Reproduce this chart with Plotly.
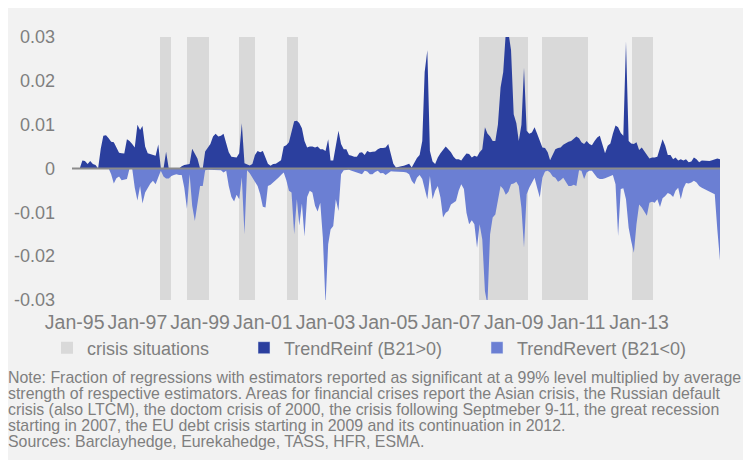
import pandas as pd
import plotly.graph_objects as go

# ---------------- data (monthly, Dec-1994 .. Aug-2015) ----------------
start_month = "1994-12-01"
n_months = 249
dates = pd.date_range(start_month, periods=n_months, freq="MS")

trend_reinf = [
    0, 0, 0, 0, 0.0018, 0.0017, 0.0010, 0.0017, 0.0010, 0.0008, 0, 0.0045,
    0.0075, 0.0076, 0.0069, 0.0061, 0.0060, 0.0048, 0.0036, 0.0035, 0.0034, 0.0067, 0.0063, 0.0056,
    0.0048, 0.0100, 0.0088, 0.0097, 0.0050, 0.0035, 0.0033, 0.0031, 0.0029, 0.0055, 0, 0,
    0.0038, 0, 0, 0, 0, 0, 0.0005, 0.0008, 0.0009, 0.0010, 0.0045, 0.0032,
    0.0023, 0, 0, 0.0039, 0.0047, 0.0056, 0.0073, 0.0079, 0.0073, 0.0075, 0.0079, 0.0060,
    0.0037, 0.0027, 0.0026, 0.0025, 0.0035, 0.0103, 0.0012, 0.0010, 0.0007, 0.0010, 0.0031, 0.0040,
    0.0037, 0.0040, 0.0025, 0.0011, 0.0006, 0.0010, 0.0011, 0.0014, 0.0019, 0.0050, 0.0053, 0.0060,
    0.0086, 0.0108, 0.0109, 0.0104, 0.0092, 0.0063, 0.0048, 0.0050, 0.0050, 0.0048, 0.0050, 0.0044,
    0.0044, 0.0040, 0.0067, 0.0018, 0.0018, 0.0056, 0.0086, 0.0056, 0.0044, 0.0044, 0.0031, 0.0029,
    0.0027, 0.0027, 0.0036, 0.0037, 0.0031, 0.0040, 0.0037, 0.0038, 0.0039, 0.0044, 0.0047, 0.0047,
    0.0048, 0.0056, 0.0030, 0.0011, 0.0002, 0.0004, 0.0005, 0.0006, 0.0008, 0.0011, 0.0002, 0.0014,
    0.0024, 0.0031, 0.0063, 0.0220, 0.0270, 0.0040, 0.0016, 0.0010, 0.0025, 0.0035, 0.0042, 0.0050,
    0.0044, 0.0037, 0.0027, 0.0021, 0.0021, 0.0018, 0.0027, 0.0034, 0.0033, 0.0025, 0.0029, 0.0027,
    0.0037, 0.0044, 0.0094, 0.0080, 0.0073, 0.0063, 0.0063, 0.0100, 0.0185, 0.0220, 0.0310, 0.0310,
    0.0270, 0.0124, 0.0103, 0.0063, 0.0100, 0.0230, 0.0086, 0.0079, 0.0082, 0.0094, 0.0079, 0.0063,
    0.0048, 0.0047, 0.0037, 0.0019, 0.0033, 0.0044, 0.0047, 0.0048, 0.0054, 0.0058, 0.0061, 0.0063,
    0.0067, 0.0073, 0.0069, 0.0060, 0.0056, 0.0063, 0.0056, 0.0053, 0.0063, 0.0071, 0.0075, 0.0056,
    0.0035, 0.0052, 0.0057, 0.0079, 0.0098, 0.0094, 0.0081, 0.0075, 0.0290, 0.0063, 0.0057, 0.0056,
    0.0060, 0.0042, 0.0048, 0.0040, 0.0031, 0.0023, 0.0025, 0.0025, 0.0027, 0.0050, 0.0067, 0.0052,
    0.0031, 0.0031, 0.0021, 0.0025, 0.0018, 0.0021, 0.0018, 0.0021, 0.0014, 0.0016, 0.0025, 0.0021,
    0.0014, 0.0018, 0.0018, 0.0018, 0.0017, 0.0019, 0.0021, 0.0023, 0.0021,
]

trend_revert = [
    0, 0, 0, 0, 0, 0, 0, 0, 0, 0, 0, 0,
    0, 0, 0, -0.0013, -0.0034, -0.0022, -0.0018, -0.0027, -0.0025, -0.0024, 0, 0,
    -0.0044, -0.0073, -0.0040, -0.0080, -0.0055, -0.0044, -0.0034, -0.0028, -0.0036, -0.0020, -0.0005, -0.0018,
    -0.0023, -0.0023, -0.0017, -0.0015, -0.0013, -0.0015, -0.0015, -0.0044, -0.0092, -0.0013, -0.0085, -0.0120,
    -0.0082, -0.0040, -0.0040, -0.0004, -0.0003, -0.0003, -0.0004, -0.0004, -0.0003, -0.0004, -0.0009, -0.0005,
    -0.0040, -0.0065, -0.0075, -0.0060, -0.0070, -0.0020, -0.0150, -0.0004, -0.0011, -0.0021, -0.0028, -0.0040,
    -0.0059, -0.0087, -0.0089, -0.0040, -0.0037, -0.0032, -0.0028, -0.0021, -0.0015, -0.0009, -0.0026, -0.0051,
    -0.0055, -0.0150, -0.0070, -0.0130, -0.0080, -0.0155, -0.0065, -0.0051, -0.0055, -0.0085, -0.0098, -0.0078,
    -0.0158, -0.0310, -0.0173, -0.0139, -0.0131, -0.0070, -0.0097, -0.0013, -0.0004, -0.0003, -0.0003, -0.0005,
    -0.0007, -0.0008, -0.0011, -0.0013, -0.0005, -0.0007, -0.0013, -0.0013, -0.0008, -0.0005, -0.0011, -0.0010,
    -0.0015, -0.0011, -0.0006, -0.0007, -0.0007, -0.0007, -0.0007, -0.0008, -0.0009, -0.0013, -0.0028, -0.0036,
    -0.0021, -0.0015, -0.0024, -0.0047, -0.0070, -0.0017, -0.0070, -0.0051, -0.0040, -0.0066, -0.0112, -0.0101,
    -0.0097, -0.0082, -0.0078, -0.0074, -0.0051, -0.0036, -0.0047, -0.0101, -0.0127, -0.0118, -0.0127, -0.0181,
    -0.0127, -0.0162, -0.0280, -0.0310, -0.0150, -0.0112, -0.0105, -0.0070, -0.0040, -0.0047, -0.0060, -0.0053,
    -0.0036, -0.0034, -0.0030, -0.0040, -0.0090, -0.0180, -0.0059, -0.0044, -0.0032, -0.0021, -0.0044, -0.0066,
    -0.0021, -0.0007, -0.0005, -0.0009, -0.0018, -0.0021, -0.0030, -0.0027, -0.0021, -0.0032, -0.0040, -0.0040,
    -0.0037, -0.0040, -0.0004, -0.0005, -0.0024, -0.0009, -0.0005, -0.0005, -0.0013, -0.0021, -0.0024, -0.0024,
    -0.0022, -0.0019, -0.0017, -0.0015, -0.0036, -0.0154, -0.0047, -0.0045, -0.0070, -0.0135, -0.0166, -0.0192,
    -0.0127, -0.0082, -0.0089, -0.0097, -0.0108, -0.0078, -0.0076, -0.0078, -0.0070, -0.0088, -0.0068, -0.0063,
    -0.0056, -0.0059, -0.0065, -0.0051, -0.0044, -0.0070, -0.0045, -0.0033, -0.0034, -0.0032, -0.0028, -0.0032,
    -0.0040, -0.0044, -0.0047, -0.0051, -0.0053, -0.0055, -0.0059, -0.0140, -0.0210,
]

crisis_start = ["1997-09-21", "1998-08-04", "2000-03-28", "2001-10-13", "2007-11-28", "2009-12-01", "2012-10-07"]
crisis_end = ["1998-01-28", "1999-04-12", "2000-10-04", "2002-02-18", "2009-06-21", "2011-05-19", "2013-06-16"]

x_tick_dates = ["1995-01-01", "1997-01-01", "1999-01-01", "2001-01-01", "2003-01-01",
                "2005-01-01", "2007-01-01", "2009-01-01", "2011-01-01", "2013-01-01"]
x_tick_labels = ["Jan-95", "Jan-97", "Jan-99", "Jan-01", "Jan-03",
                 "Jan-05", "Jan-07", "Jan-09", "Jan-11", "Jan-13"]

y_min, y_max = -0.03, 0.03
y_ticks = [0.03, 0.02, 0.01, 0, -0.01, -0.02, -0.03]
y_tick_text = ["0.03", "0.02", "0.01", "0", "-0.01", "-0.02", "-0.03"]

series_names = ["crisis situations", "TrendReinf (B21&gt;0)", "TrendRevert (B21&lt;0)"]

note_lines = [
    "Note: Fraction of regressions with estimators reported as significant at a 99% level multiplied by average",
    "strength of respective estimators. Areas for financial crises report the Asian crisis, the Russian default",
    "crisis (also LTCM), the doctom crisis of 2000, the crisis following Septmeber 9-11, the great recession",
    "starting in 2007, the EU debt crisis starting in 2009 and its continuation in 2012.",
    "Sources: Barclayhedge, Eurekahedge, TASS, HFR, ESMA.",
]

assert len(trend_reinf) == n_months and len(trend_revert) == n_months

# ---------------- styling ----------------
# the page body has an 8px margin, so the figure is drawn from (8, 8)
W, H = 743, 452
ML, MR, MT, MB = 64, 31, 29, 160
PW, PH = W - ML - MR, H - MT - MB
FONT = "Liberation Sans, Arial, sans-serif"
GREY_TXT = "#7f7f7f"
C_CRISIS = "#d9d9d9"
C_REINF = "#2b3f9e"
C_REVERT = "#6b7fd3"
BG = "#f2f2f2"


def px_x(px):
    return (px - ML) / PW


def px_y(py):
    return (H - MB - py) / PH


cs = pd.to_datetime(crisis_start)
ce = pd.to_datetime(crisis_end)
mid = cs + (ce - cs) / 2
widths = [(e - s).total_seconds() * 1000 for s, e in zip(cs, ce)]

fig = go.Figure()

fig.add_trace(go.Bar(
    x=mid, y=[y_max - y_min] * len(mid), base=y_min, width=widths,
    marker=dict(color=C_CRISIS, line=dict(width=0)),
    name=series_names[0], hoverinfo="skip", legendwidth=152,
))

fig.add_trace(go.Scatter(
    x=dates, y=trend_reinf, mode="lines", fill="tozeroy",
    line=dict(width=0, color=C_REINF), fillcolor=C_REINF,
    name=series_names[1], legendgroup="reinf", showlegend=False,
))
fig.add_trace(go.Scatter(
    x=dates, y=trend_revert, mode="lines", fill="tozeroy",
    line=dict(width=0, color=C_REVERT), fillcolor=C_REVERT,
    name=series_names[2], legendgroup="revert", showlegend=False,
))
fig.add_trace(go.Scatter(
    x=[dates[0], dates[-1]], y=[0, 0], mode="lines",
    line=dict(width=2, color="#8c8c8c"), showlegend=False, hoverinfo="skip",
))
# legend entries (square swatches like the original)
fig.add_trace(go.Bar(x=[None], y=[None], name=series_names[1], legendgroup="reinf",
                     marker=dict(color=C_REINF), legendwidth=188))
fig.add_trace(go.Bar(x=[None], y=[None], name=series_names[2], legendgroup="revert",
                     marker=dict(color=C_REVERT)))

annotations = []
for i, line in enumerate(note_lines):
    annotations.append(dict(
        text=line, xref="paper", yref="paper", x=px_x(-2), y=px_y(369 + 16 * i),
        xanchor="left", yanchor="middle", showarrow=False,
        font=dict(family=FONT, size=15.9, color=GREY_TXT),
    ))

fig.update_layout(
    width=W, height=H,
    margin=dict(l=ML, r=MR, t=MT, b=MB, pad=0, autoexpand=False),
    paper_bgcolor=BG, plot_bgcolor=BG,
    font=dict(family=FONT, size=18, color=GREY_TXT),
    barmode="overlay", bargap=0,
    showlegend=True,
    legend=dict(orientation="h", x=px_x(39), y=px_y(340), xanchor="left", yanchor="middle",
                bgcolor="rgba(0,0,0,0)", font=dict(family=FONT, size=18, color=GREY_TXT),
                itemclick=False, itemdoubleclick=False, traceorder="normal"),
    xaxis=dict(type="date", range=[dates[0], dates[-1]], automargin=False,
               tickvals=pd.to_datetime(x_tick_dates), ticktext=x_tick_labels,
               showgrid=False, zeroline=False, showline=False,
               ticks="", ticklabelstandoff=8, tickfont=dict(size=19.5, color=GREY_TXT)),
    yaxis=dict(range=[y_min, y_max], tickvals=y_ticks, ticktext=y_tick_text, automargin=False,
               showgrid=False, zeroline=False, showline=False, ticks="",
               ticklabelstandoff=16, tickfont=dict(size=18, color=GREY_TXT)),
    annotations=annotations,
)

fig.write_html("out.html")
